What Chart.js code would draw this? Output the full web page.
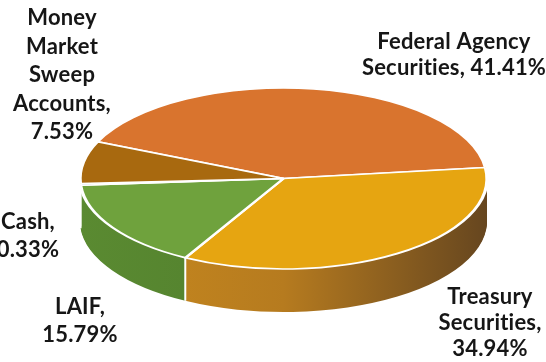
<!DOCTYPE html>
<html>
<head>
<meta charset="utf-8">
<script src="https://cdn.jsdelivr.net/npm/chart.js@4/dist/chart.umd.min.js"></script>
<style>
  html, body { margin: 0; padding: 0; background: #fff; }
  #wrap { width: 546px; height: 362px; position: relative; }
</style>
</head>
<body>
<div id="wrap"><canvas id="pie"></canvas></div>
<script>
// Portfolio share by investment type (percent)
const categories = ["Federal Agency Securities", "Treasury Securities", "LAIF", "Cash", "Money Market Sweep Accounts"];
const shares = [41.41, 34.94, 15.79, 0.33, 7.53];
// label text, broken the way the picture breaks it; {v} is the share
const labelLines = [
    ["Federal Agency", "Securities, {v}"],
    ["Treasury", "Securities,", "{v}"],
    ["LAIF,", "{v}"],
    ["Cash,", "{v}"],
    ["Money", "Market", "Sweep", "Accounts,", "{v}"]
];

const topColors = ["#d9742e", "#e6a511", "#6fa23d", "#9fb4cf", "#a8690f"];
// side colours: [left, middle, right] of the cylinder wall
const sideColors = [
    ["#b35f24", "#a5561f", "#6e3d18"],
    ["#c98a1e", "#b67b1f", "#66461f"],
    ["#5a8a31", "#52802e", "#3f6424"],
    ["#8296b0", "#76889f", "#55626f"],
    ["#8f5a10", "#80500f", "#55360c"]
];

// where the tilted pie sits on the page
const view = { cx: 283.5, cy: 178.5, rx: 203.5, ry: 90.5, depth: 43 };
// label anchors: centre x, first line centre y, line step
const labelPos = [
    [454, 42, 26],
    [490, 297, 26],
    [80, 307, 28],
    [28, 222, 28],
    [62, 18, 28.5]
];

function project(ctx, arc, dy) {
    const R = arc.outerRadius;
    ctx.translate(view.cx, view.cy + dy);
    ctx.scale(view.rx / R, view.ry / R);
    ctx.translate(-arc.x, -arc.y);
}

// draws the pie tilted, with a wall underneath
const tiltPie = {
    id: "tiltPie",
    beforeDatasetsDraw(chart) {
        const ctx = chart.ctx;
        const arcs = chart.getDatasetMeta(0).data;
        const R = arcs[0].outerRadius;

        // wall: stack copies of each slice from the bottom up
        for (let d = view.depth; d >= 1; d--) {
            arcs.forEach((arc, i) => {
                ctx.save();
                project(ctx, arc, d);
                const g = ctx.createLinearGradient(arc.x - R, 0, arc.x + R, 0);
                g.addColorStop(0, sideColors[i][0]);
                g.addColorStop(0.5, sideColors[i][1]);
                g.addColorStop(1, sideColors[i][2]);
                const copy = Object.create(arc);
                copy.options = Object.assign({}, arc.options, { backgroundColor: g, borderWidth: 0 });
                copy.draw(ctx);
                ctx.restore();
            });
        }

        // white seams on the front of the wall
        arcs.forEach(arc => {
            const a = arc.endAngle % (Math.PI * 2);
            if (Math.sin(a) <= 0.05) return;
            const x = view.cx + view.rx * Math.cos(a);
            const y = view.cy + view.ry * Math.sin(a);
            ctx.save();
            ctx.strokeStyle = "#ffffff";
            ctx.lineWidth = 2;
            ctx.beginPath();
            ctx.moveTo(x, y);
            ctx.lineTo(x, y + view.depth);
            ctx.stroke();
            ctx.restore();
        });

        // top face
        arcs.forEach(arc => {
            ctx.save();
            project(ctx, arc, 0);
            arc.draw(ctx);
            ctx.restore();
        });
        return false;
    },
    afterDraw(chart) {
        const ctx = chart.ctx;
        ctx.save();
        ctx.font = "bold 22px Lato";
        ctx.letterSpacing = "0.2px"; // keeps "ti" from joining
        ctx.fillStyle = "#161616";
        ctx.textAlign = "center";
        ctx.textBaseline = "middle";
        labelLines.forEach((lines, i) => {
            const [x, y, step] = labelPos[i];
            lines.forEach((t, k) => {
                ctx.fillText(t.replace("{v}", shares[i].toFixed(2) + "%"), x, y + k * step);
            });
        });
        ctx.restore();
    }
};

new Chart(document.getElementById("pie"), {
    type: "pie",
    data: {
        labels: categories,
        datasets: [{
            data: shares,
            backgroundColor: topColors,
            borderColor: "#ffffff",
            borderWidth: 3
        }]
    },
    options: {
        responsive: true,
        maintainAspectRatio: false,
        animation: false,
        rotation: 294,
        plugins: {
            legend: { display: false },
            tooltip: { enabled: false }
        }
    },
    plugins: [tiltPie]
});
</script>
</body>
</html>
